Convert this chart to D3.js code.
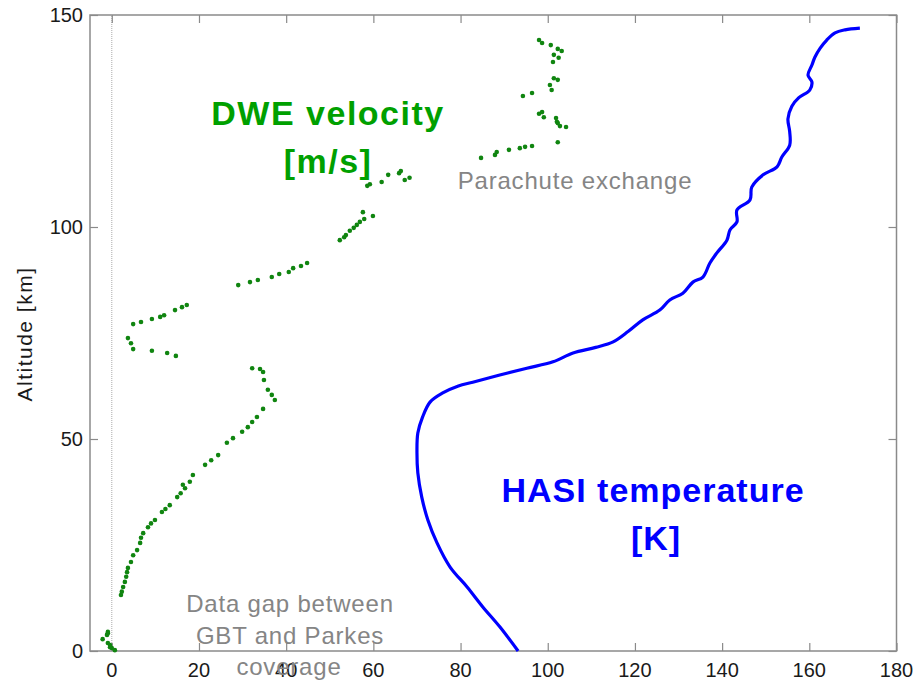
<!DOCTYPE html>
<html lang="en">
<head>
    <meta charset="UTF-8">
    <title>DWE velocity and HASI temperature vs altitude</title>
    <script src="https://d3js.org/d3.v7.min.js"></script>
    <style>
        body { margin: 0; background: white; }
        svg { display: block; font-family: "Liberation Sans", Arial, sans-serif; }
    </style>
</head>
<body>
    <svg width="915" height="684"></svg>
    <script>
        // DWE wind velocity samples (altitude km, velocity m/s)
        var dweAltitude = [0.2, 0.7, 0.9, 1.4, 1.9, 2.8, 3.8, 4.2, 4.5,
            13.2, 14.0, 15.1, 16.3, 17.5, 18.6, 19.6, 21.0, 22.6, 23.8, 25.5, 26.7, 27.8, 29.2, 30.1, 30.9, 32.8, 33.5, 34.4, 36.3, 37.2, 38.4, 39.2, 39.9,
            41.5, 43.9, 45.0, 46.2, 49.1, 50.2, 51.7, 52.8, 54.0, 55.2, 57.1, 59.2, 60.4, 61.6, 63.9, 65.8, 66.5, 66.7,
            69.6, 70.3, 70.8, 71.2, 72.6, 73.8, 77.1, 77.6, 78.3, 78.8, 79.2, 80.4, 81.1, 81.6,
            86.3, 87.0, 87.5, 88.2, 88.9, 89.4, 90.3, 90.8, 91.5,
            96.9, 97.6, 98.1, 99.1, 99.8, 100.5, 101.2, 101.9, 102.6, 103.5,
            109.7, 110.1, 110.6, 111.1, 111.6, 112.3, 112.7, 113.2,
            116.3, 117.0, 117.7, 118.2, 118.6, 118.9, 119.1, 120.0,
            123.6, 123.8, 124.5, 124.8, 125.7, 125.9, 126.7, 127.1,
            130.9, 131.6, 132.3, 133.5, 134.7, 135.1,
            138.9, 139.9, 140.6, 141.5, 142.0, 142.9, 143.4, 144.1];
        var dweVelocity = [0.7, 0.0, -0.4, -0.4, -0.9, -2.1, -1.1, -0.9, -0.9,
            2.1, 2.3, 2.6, 3.0, 3.3, 3.5, 3.7, 4.4, 4.9, 5.8, 6.5, 6.7, 7.2, 8.3, 9.0, 9.9, 11.5, 12.3, 13.3, 15.0, 15.8, 16.8, 16.3, 17.9,
            18.6, 21.4, 22.8, 24.4, 26.4, 27.8, 29.9, 31.2, 32.2, 33.3, 34.7, 37.4, 36.7, 35.8, 34.9, 34.7, 34.0, 32.2,
            14.7, 12.7, 9.2, 4.9, 4.4, 3.7, 4.9, 6.7, 9.2, 11.1, 12.0, 14.5, 16.1, 17.2,
            29.0, 31.7, 33.5, 36.7, 38.4, 40.6, 41.6, 43.4, 44.8,
            52.3, 53.3, 53.7, 54.6, 55.5, 56.2, 56.9, 57.9, 59.9, 57.6,
            58.6, 59.2, 61.9, 67.2, 68.3, 63.4, 65.9, 66.3,
            84.7, 87.9, 88.3, 91.1, 93.6, 94.8, 96.4, 102.3,
            104.2, 102.8, 102.3, 102.1, 101.9, 99.1, 98.0, 98.7,
            94.3, 96.4, 100.9, 100.5, 102.3, 101.4,
            101.2, 102.5, 101.4, 103.2, 102.3, 100.7, 98.7, 98.0];

        // HASI temperature profile (altitude km, temperature K)
        var hasiAltitude = [0, 5.7, 10.4, 15.1, 19.8, 25.5, 30.9, 36.3, 42.0, 47.0, 51.4, 55.2, 58.7, 60.8,
            62.5, 63.4, 65.1, 66.7, 68.2, 70.3, 71.6, 72.9, 75.4, 78.1, 80.4, 82.8, 84.4, 87.0, 88.2,
            91.5, 93.9, 96.9, 99.3, 101.2, 104.0, 106.4, 109.4, 112.3, 114.2, 116.5, 119.3, 122.5,
            125.5, 128.5, 130.5, 132.3, 134.2, 135.8, 138.2, 140.1, 142.2, 144.1, 145.8, 146.5, 146.9];
        var hasiTemperature = [93.2, 89.0, 85.1, 81.5, 77.6, 74.6, 72.5, 71.1, 70.2, 70.0, 70.2, 71.3, 73.0, 75.8,
            79.5, 82.8, 89.0, 95.2, 101.2, 105.8, 111.0, 115.0, 118.5, 121.8, 125.7, 128.0, 131.0, 133.3, 135.6,
            137.2, 138.8, 141.1, 141.8, 143.4, 143.4, 146.4, 146.8, 149.4, 152.6, 153.7, 155.5, 155.5,
            155.1, 156.0, 157.6, 160.1, 160.6, 159.7, 160.6, 161.3, 162.5, 164.0, 165.9, 168.2, 171.6];

        var xTicks = [0, 20, 40, 60, 80, 100, 120, 140, 160, 180];
        var yTicks = [0, 50, 100, 150];

        var svg = d3.select("svg");
        var plotLeft = 90, plotRight = 896.5, plotTop = 15, plotBottom = 651;

        var x_ = d3.scaleLinear().domain([-5, 180]).range([plotLeft, plotRight]);
        var y_ = d3.scaleLinear().domain([0, 150]).range([plotBottom, plotTop]);

        svg.append("rect").attr("width", 915).attr("height", 684).attr("fill", "white");

        // dotted zero line
        svg.append("line")
            .attr("x1", x_(0)).attr("x2", x_(0))
            .attr("y1", y_(0)).attr("y2", y_(150))
            .attr("stroke", "#aaa").attr("stroke-width", 1)
            .attr("stroke-dasharray", "1,1");

        // axes, MATLAB style ticks pointing inward on all four sides
        var tickLen = 8;
        var axisColor = "#8a8a8a";
        var ax = svg.append("g");
        ax.append("g").attr("transform", "translate(0," + plotBottom + ")")
            .call(d3.axisTop(x_).tickValues(xTicks).tickSize(tickLen).tickFormat(""));
        ax.append("g").attr("transform", "translate(0," + plotTop + ")")
            .call(d3.axisBottom(x_).tickValues(xTicks).tickSize(tickLen).tickFormat(""));
        ax.append("g").attr("transform", "translate(" + plotLeft + ",0)")
            .call(d3.axisRight(y_).tickValues(yTicks).tickSize(tickLen).tickFormat(""));
        ax.append("g").attr("transform", "translate(" + plotRight + ",0)")
            .call(d3.axisLeft(y_).tickValues(yTicks).tickSize(tickLen).tickFormat(""));
        ax.selectAll(".domain").remove();
        ax.selectAll("line").attr("stroke", axisColor).attr("stroke-width", 1.2);

        svg.append("rect")
            .attr("x", plotLeft).attr("y", plotTop)
            .attr("width", plotRight - plotLeft).attr("height", plotBottom - plotTop)
            .attr("fill", "none").attr("stroke", axisColor).attr("stroke-width", 1.5);

        // tick labels
        svg.selectAll(".xlab").data(xTicks).enter().append("text")
            .attr("class", "xlab")
            .attr("x", function(d) { return x_(d); })
            .attr("y", 677)
            .attr("text-anchor", "middle")
            .attr("font-size", "20px").attr("fill", "#1a1a1a")
            .text(function(d) { return d; });

        svg.selectAll(".ylab").data(yTicks).enter().append("text")
            .attr("class", "ylab")
            .attr("x", 83)
            .attr("y", function(d) { return y_(d) + 7; })
            .attr("text-anchor", "end")
            .attr("font-size", "20px").attr("fill", "#1a1a1a")
            .text(function(d) { return d; });

        svg.append("text")
            .attr("transform", "translate(32,334) rotate(-90)")
            .attr("text-anchor", "middle")
            .attr("font-size", "21px").attr("letter-spacing", "1.5px")
            .attr("fill", "#1a1a1a")
            .text("Altitude [km]");

        // HASI temperature curve
        var line = d3.line()
            .x(function(d) { return x_(d[1]); })
            .y(function(d) { return y_(d[0]); })
            .curve(d3.curveCatmullRom);
        svg.append("path")
            .datum(d3.zip(hasiAltitude, hasiTemperature))
            .attr("d", line)
            .attr("fill", "none")
            .attr("stroke", "#0000ff")
            .attr("stroke-width", 3.2)
            .attr("stroke-linejoin", "round");

        // DWE velocity dots
        svg.selectAll(".dwe").data(d3.zip(dweAltitude, dweVelocity)).enter().append("circle")
            .attr("class", "dwe")
            .attr("cx", function(d) { return x_(d[1]); })
            .attr("cy", function(d) { return y_(d[0]); })
            .attr("r", 2.3)
            .attr("fill", "#108510");

        // annotations
        function label(txt, x, y, size, color, weight, spacing) {
            svg.append("text")
                .attr("x", x).attr("y", y)
                .attr("text-anchor", "middle")
                .attr("font-size", size + "px")
                .attr("font-weight", weight)
                .attr("letter-spacing", spacing + "px")
                .attr("fill", color)
                .text(txt);
        }
        label("DWE velocity", 328, 125, 34, "#00a000", "bold", 1.5);
        label("[m/s]", 328, 173, 34, "#00a000", "bold", 1.5);
        label("HASI temperature", 653, 502, 34, "#0000ff", "bold", 1);
        label("[K]", 656, 550, 34, "#0000ff", "bold", 1);
        label("Parachute exchange", 575, 189, 24, "#858585", "normal", 0.8);
        label("Data gap between", 290, 612, 24, "#858585", "normal", 0.8);
        label("GBT and Parkes", 290, 644, 24, "#858585", "normal", 0.8);
        label("coverage", 289, 675, 24, "#858585", "normal", 0.8);
    </script>
</body>
</html>
